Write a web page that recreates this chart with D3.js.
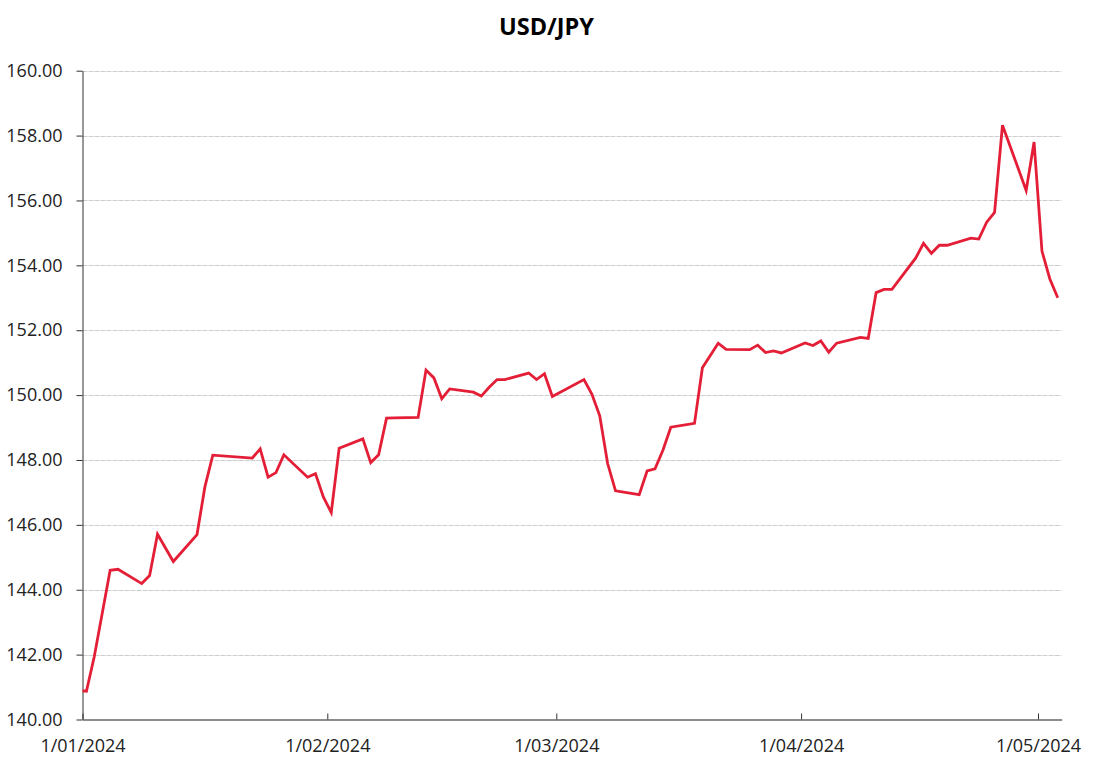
<!DOCTYPE html>
<html>
<head>
<meta charset="utf-8">
<script src="https://cdn.jsdelivr.net/npm/d3@7"></script>
<style>
  html, body { margin: 0; padding: 0; background: #ffffff; }
  svg { display: block; }
</style>
</head>
<body>
<svg id="chart" width="1097" height="764"></svg>
<script>
// ---- Data ----
const chartTitle = "USD/JPY";
const dates = [
  "2023-12-31",
  "2024-01-01","2024-01-02","2024-01-04","2024-01-05","2024-01-08","2024-01-09","2024-01-10","2024-01-12",
  "2024-01-15","2024-01-16","2024-01-17","2024-01-22","2024-01-23","2024-01-24","2024-01-25","2024-01-26",
  "2024-01-29","2024-01-30","2024-01-31","2024-02-01","2024-02-02","2024-02-05","2024-02-06","2024-02-07",
  "2024-02-08","2024-02-09","2024-02-12","2024-02-13","2024-02-14","2024-02-15","2024-02-16","2024-02-19",
  "2024-02-20","2024-02-21","2024-02-22","2024-02-23","2024-02-26","2024-02-27","2024-02-28","2024-02-29",
  "2024-03-04","2024-03-05","2024-03-06","2024-03-07","2024-03-08","2024-03-11","2024-03-12","2024-03-13",
  "2024-03-14","2024-03-15","2024-03-18","2024-03-19","2024-03-21","2024-03-22","2024-03-25","2024-03-26",
  "2024-03-27","2024-03-28","2024-03-29","2024-04-01","2024-04-02","2024-04-03","2024-04-04","2024-04-05",
  "2024-04-08","2024-04-09","2024-04-10","2024-04-11","2024-04-12","2024-04-15","2024-04-16","2024-04-17",
  "2024-04-18","2024-04-19","2024-04-22","2024-04-23","2024-04-24","2024-04-25","2024-04-26","2024-04-29",
  "2024-04-30","2024-05-01","2024-05-02","2024-05-03"
];
const rates = [
  140.90,
  140.87,141.95,144.60,144.63,144.19,144.44,145.71,144.87,
  145.70,147.17,148.15,148.06,148.34,147.47,147.61,148.16,
  147.47,147.58,146.86,146.38,148.36,148.65,147.92,148.16,
  149.29,149.30,149.31,150.77,150.53,149.89,150.19,150.09,
  149.97,150.24,150.48,150.48,150.68,150.48,150.66,149.96,
  150.48,150.03,149.36,147.89,147.05,146.93,147.66,147.73,
  148.30,149.01,149.13,150.84,151.60,151.41,151.40,151.54,
  151.31,151.36,151.30,151.61,151.53,151.67,151.32,151.60,
  151.78,151.75,153.16,153.26,153.26,154.22,154.68,154.37,
  154.62,154.62,154.84,154.81,155.33,155.63,158.32,156.31,
  157.80,154.44,153.58,153.00
];
const xTickDates = ["2024-01-01","2024-02-01","2024-03-01","2024-04-01","2024-05-01"];
const yTicks = [140,142,144,146,148,150,152,154,156,158,160];
const xDomain = ["2024-01-01","2024-05-04"];
const yDomain = [140,160];

// ---- Setup ----
const parse = d3.utcParse("%Y-%m-%d");
const fmtX = d => `${d.getUTCDate()}/${String(d.getUTCMonth()+1).padStart(2,"0")}/${d.getUTCFullYear()}`;
const fmtY = d3.format(".2f");

const svg = d3.select("#chart");
const margin = {left: 82.5, right: 1061.7, top: 70.7, bottom: 719.5};

const x = d3.scaleUtc().domain(xDomain.map(parse)).range([margin.left, margin.right]);
const y = d3.scaleLinear().domain(yDomain).range([margin.bottom, margin.top]);

const data = dates.map((d, i) => ({date: parse(d), value: rates[i]}));
// points sit in the middle of each day slot (date axis, between tick marks)
const xMid = d => x(d3.utcHour.offset(d, 12));

const font = "'Open Sans', 'DejaVu Sans', sans-serif";

svg.append("defs").append("clipPath").attr("id", "plotClip")
  .append("rect")
  .attr("x", margin.left).attr("y", 0)
  .attr("width", margin.right - margin.left).attr("height", 764);

// Title
svg.append("text")
  .attr("x", 546.5).attr("y", 35)
  .attr("text-anchor", "middle")
  .attr("font-family", font)
  .attr("font-weight", 700)
  .attr("font-size", 23.5)
  .attr("fill", "#000")
  .text(chartTitle);

// Gridlines
svg.append("g")
  .selectAll("line")
  .data(yTicks.filter(t => t !== yDomain[0]))
  .join("line")
  .attr("x1", margin.left).attr("x2", margin.right)
  .attr("y1", d => Math.round(y(d)) + 0.5).attr("y2", d => Math.round(y(d)) + 0.5)
  .attr("stroke", "#cdcdcd")
  .attr("stroke-width", 1)
  .attr("stroke-dasharray", "5,1");

// Y axis
const yAxis = svg.append("g")
  .attr("transform", `translate(${margin.left},0)`)
  .call(d3.axisLeft(y).tickValues(yTicks).tickFormat(fmtY).tickSizeOuter(0).tickSizeInner(6).tickPadding(14));
yAxis.select(".domain").attr("stroke", "#333").attr("stroke-width", 1);
yAxis.selectAll(".tick line").attr("stroke", "#333");
yAxis.selectAll(".tick text")
  .attr("font-family", font).attr("font-size", 18).attr("fill", "#222");

// X axis
const xAxis = svg.append("g")
  .attr("transform", `translate(0,${margin.bottom})`)
  .call(d3.axisBottom(x).tickValues(xTickDates.map(parse)).tickFormat(fmtX).tickSizeOuter(0).tickSizeInner(-6).tickPadding(20));
xAxis.select(".domain").attr("stroke", "#666").attr("stroke-width", 1.3);
xAxis.selectAll(".tick line").attr("stroke", "#333");
xAxis.selectAll(".tick text")
  .attr("font-family", font).attr("font-size", 18).attr("fill", "#222");

// Line
const line = d3.line().x(d => xMid(d.date)).y(d => y(d.value));
svg.append("path")
  .datum(data)
  .attr("clip-path", "url(#plotClip)")
  .attr("d", line)
  .attr("fill", "none")
  .attr("stroke", "#e31e36")
  .attr("stroke-width", 2.8)
  .attr("stroke-linejoin", "miter");
</script>
</body>
</html>
